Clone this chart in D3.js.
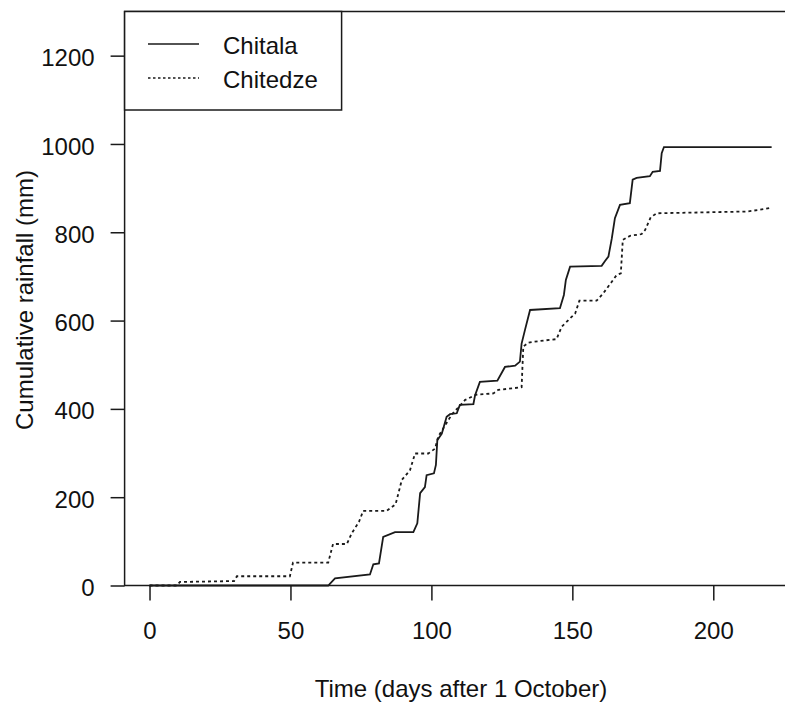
<!DOCTYPE html>
<html>
<head>
<meta charset="utf-8">
<script src="https://cdn.jsdelivr.net/npm/d3@7"></script>
<style>
  html, body { margin: 0; padding: 0; background: #fff; }
  svg { display: block; }
  text { font-family: "Liberation Sans", Arial, sans-serif; fill: #111; }
</style>
</head>
<body>
<svg id="chart" width="785" height="706"></svg>
<script>
// Cumulative rainfall (mm) by day after 1 October, vertices of each station's curve
const chitalaDays = [0, 63.4, 65.8, 78.2, 79.4, 81.4, 82.9, 87.1, 93.6, 95, 96, 97.7, 98.3, 100.9, 101.6, 102.1, 103.7, 105.4, 106.6, 109, 110.1, 114.9, 115.5, 117.2, 123.4, 126.1, 129.7, 131.4, 132, 133.2, 135, 145.6, 147, 147.7, 149.2, 160.4, 161.6, 162.8, 164, 165.1, 166.9, 170.4, 171.4, 172.8, 177.5, 178.5, 181.1, 181.7, 182.5, 220.7];
const chitalaMm   = [0, 0, 16, 25, 48, 50, 110, 121, 121, 141, 209, 223, 250, 254, 273, 329, 344, 382, 388, 390, 409, 411, 431, 461, 464, 495, 498, 507, 548, 579, 624, 628, 658, 692, 722, 724, 735, 745, 786, 832, 862, 866, 919, 923, 927, 937, 939, 979, 993, 993];

const chitedzeDays = [0, 9.6, 10.8, 30, 31, 49.8, 50.9, 63.4, 65.1, 70, 71.7, 74.3, 75.8, 84.1, 87.3, 89.5, 92.4, 94.2, 98.9, 101.3, 102.4, 107.3, 110.1, 111.9, 115.8, 122, 123.7, 132, 132.6, 134.4, 136.1, 144.4, 146.2, 149.2, 151, 152.5, 158.6, 161, 164, 165.7, 167.2, 167.9, 170.5, 174.6, 175.8, 177.8, 179.9, 211.8, 216.6, 220.1];
const chitedzeMm   = [0, 0, 8, 10, 21, 21, 52, 52, 94, 94, 118, 144, 169, 169, 184, 239, 261, 299, 299, 310, 337, 388, 407, 420, 432, 435, 443, 449, 541, 550, 552, 558, 586, 605, 616, 645, 645, 662, 688, 703, 707, 783, 792, 796, 805, 834, 843, 847, 851, 855];

const xTickValues = [0, 50, 100, 150, 200];
const yTickValues = [0, 200, 400, 600, 800, 1000, 1200];

const seriesNames = ["Chitala", "Chitedze"];
const xTitle = "Time (days after 1 October)";
const yTitle = "Cumulative rainfall (mm)";

const svg = d3.select("#chart");
const ink = "#1a1a1a";
const fontSize = 24;

// Plot region: x padded 4% beyond the data range, y fixed 0–1300
const x = d3.scaleLinear().domain([-8.84, 229.84]).range([124.6, 797.4]);
const y = d3.scaleLinear().domain([0, 1300]).range([585.5, 11.5]);

const toPoints = (days, mm) => days.map((d, i) => [d, mm[i]]);
const line = d3.line().x(d => x(d[0])).y(d => y(d[1]));

// Curves
svg.append("path")
  .datum(toPoints(chitedzeDays, chitedzeMm))
  .attr("d", line)
  .attr("fill", "none")
  .attr("stroke", ink)
  .attr("stroke-width", 1.8)
  .attr("stroke-dasharray", "3,3");

svg.append("path")
  .datum(toPoints(chitalaDays, chitalaMm))
  .attr("d", line)
  .attr("fill", "none")
  .attr("stroke", ink)
  .attr("stroke-width", 1.8);

// Frame around the plot region
svg.append("rect")
  .attr("x", x.range()[0])
  .attr("y", y.range()[1])
  .attr("width", x.range()[1] - x.range()[0])
  .attr("height", y.range()[0] - y.range()[1])
  .attr("fill", "none")
  .attr("stroke", ink)
  .attr("stroke-width", 1.5);

// Axes
const xAxis = svg.append("g")
  .attr("transform", `translate(0,${y.range()[0]})`)
  .call(d3.axisBottom(x).tickValues(xTickValues).tickFormat(d3.format("d"))
    .tickSize(15).tickSizeOuter(0).tickPadding(6));
const yAxis = svg.append("g")
  .attr("transform", `translate(${x.range()[0]},0)`)
  .call(d3.axisLeft(y).tickValues(yTickValues).tickFormat(d3.format("d"))
    .tickSize(14).tickSizeOuter(0).tickPadding(16));

[xAxis, yAxis].forEach(g => {
  g.select(".domain").remove();
  g.selectAll(".tick line").attr("stroke", ink).attr("stroke-width", 1.5);
  g.selectAll(".tick text")
    .attr("fill", ink)
    .style("font-family", '"Liberation Sans", Arial, sans-serif')
    .style("font-size", fontSize + "px");
});
xAxis.selectAll(".tick text").attr("dy", null).attr("y", 53).attr("dominant-baseline", "alphabetic");
yAxis.selectAll(".tick text").attr("dy", "0.42em");

// Axis titles
svg.append("text")
  .attr("x", 461)
  .attr("y", 697)
  .attr("text-anchor", "middle")
  .style("font-size", fontSize + "px")
  .text(xTitle);

svg.append("text")
  .attr("transform", "translate(33,300) rotate(-90)")
  .attr("text-anchor", "middle")
  .style("font-size", fontSize + "px")
  .text(yTitle);

// Legend
const legend = svg.append("g");
legend.append("rect")
  .attr("x", x.range()[0])
  .attr("y", y.range()[1])
  .attr("width", 217)
  .attr("height", 98.5)
  .attr("fill", "#fff")
  .attr("stroke", ink)
  .attr("stroke-width", 1.5);

const legendRows = [
  { name: seriesNames[0], dash: null, cy: 44 },
  { name: seriesNames[1], dash: "2.5,2.5", cy: 78 }
];
legendRows.forEach(r => {
  legend.append("line")
    .attr("x1", 148).attr("x2", 199)
    .attr("y1", r.cy).attr("y2", r.cy)
    .attr("stroke", ink)
    .attr("stroke-width", 1.6)
    .attr("stroke-dasharray", r.dash);
  legend.append("text")
    .attr("x", 223)
    .attr("y", r.cy + 9.5)
    .style("font-size", fontSize + "px")
    .text(r.name);
});
</script>
</body>
</html>
